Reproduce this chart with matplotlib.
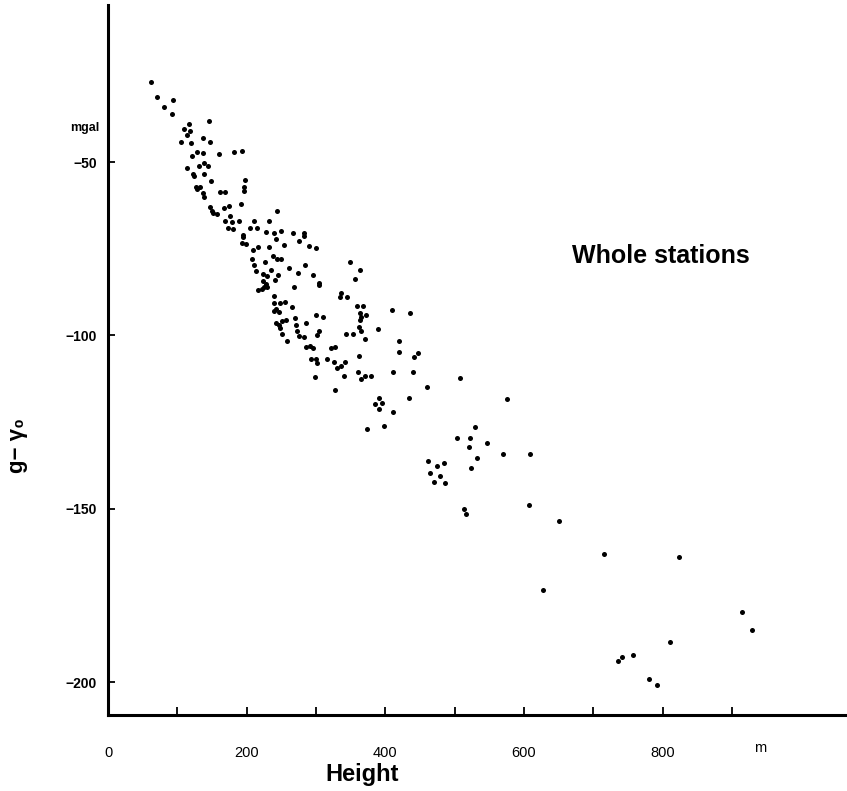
import matplotlib
matplotlib.use("Agg")
import matplotlib.pyplot as plt

plt.rcParams['font.family'] = ['Liberation Sans', 'DejaVu Sans']

# station height (m) and g - gamma0 (mgal)
height = [62, 70, 81, 94, 93, 146, 109, 117, 118, 114,
          105, 119, 137, 147, 128, 121, 137, 160, 182, 193,
          114, 131, 138, 144, 123, 124, 139, 149, 197, 127,
          133, 129, 196, 196, 137, 139, 161, 169, 192, 147,
          150, 152, 157, 167, 174, 176, 244, 169, 179, 189,
          173, 181, 211, 232, 205, 215, 228, 240, 249, 243,
          267, 283, 283, 276, 194, 195, 193, 199, 209, 217,
          232, 254, 290, 300, 207, 226, 238, 244, 249, 211,
          214, 224, 229, 235, 245, 261, 274, 284, 296, 304,
          305, 223, 228, 229, 217, 222, 225, 241, 268, 240,
          240, 248, 255, 265, 240, 243, 246, 243, 246, 248,
          251, 257, 270, 271, 285, 300, 310, 251, 273, 276,
          282, 305, 302, 258, 285, 291, 296, 322, 328, 349,
          364, 356, 336, 335, 345, 359, 368, 364, 372, 364,
          365, 362, 365, 389, 409, 435, 343, 353, 370, 420,
          419, 442, 447, 362, 293, 300, 301, 316, 326, 330,
          336, 342, 298, 341, 360, 365, 371, 380, 411, 440,
          460, 508, 327, 391, 395, 385, 391, 411, 434, 373,
          398, 530, 503, 522, 576, 520, 546, 532, 570, 608,
          461, 475, 485, 465, 479, 470, 486, 523, 514, 516,
          607, 650, 716, 823, 628, 914, 929, 810, 736, 741,
          757, 780, 792]

anomaly = [-27.0, -31.2, -34.2, -32.1, -36.2, -38.1, -40.5, -39.0, -41.0, -42.2,
           -44.1, -44.4, -43.1, -44.2, -47.2, -48.3, -47.4, -47.7, -47.1, -46.7,
           -51.8, -51.2, -50.2, -51.0, -53.5, -54.1, -53.5, -55.4, -55.2, -57.1,
           -57.3, -57.9, -57.1, -58.4, -59.0, -60.2, -58.5, -58.5, -62.2, -62.9,
           -64.0, -64.8, -65.0, -63.2, -62.7, -65.6, -64.0, -67.0, -67.4, -67.0,
           -69.0, -69.4, -66.9, -67.0, -69.0, -69.0, -70.3, -70.6, -69.8, -72.2,
           -70.4, -70.6, -71.3, -72.7, -70.9, -71.6, -73.3, -73.7, -75.4, -74.6,
           -74.6, -73.9, -74.1, -74.8, -78.0, -78.9, -77.0, -78.0, -78.0, -79.6,
           -81.4, -82.3, -82.8, -81.2, -82.5, -80.7, -81.9, -79.7, -82.6, -85.0,
           -85.6, -84.2, -85.2, -86.0, -86.9, -86.6, -86.1, -84.1, -85.9, -88.7,
           -90.8, -90.8, -90.5, -91.8, -92.9, -92.4, -93.3, -96.4, -97.0, -97.8,
           -95.8, -95.7, -95.1, -97.1, -96.5, -94.1, -94.6, -99.6, -98.6, -100.1,
           -100.4, -98.8, -100.0, -101.6, -103.4, -103.1, -103.5, -103.5, -103.3, -78.9,
           -81.0, -83.7, -87.7, -89.0, -89.0, -91.5, -91.5, -93.6, -94.2, -95.6,
           -94.8, -97.7, -98.7, -98.2, -92.7, -93.6, -99.7, -99.6, -101.0, -101.6,
           -104.7, -106.3, -105.2, -105.9, -106.8, -106.9, -108.0, -106.9, -107.8, -109.5,
           -108.8, -107.6, -112.1, -111.7, -110.7, -112.6, -111.7, -111.7, -110.7, -110.5,
           -115.0, -112.4, -115.8, -118.1, -119.4, -119.9, -121.3, -122.2, -118.1, -127.0,
           -126.2, -126.4, -129.7, -129.7, -118.4, -132.3, -130.9, -135.4, -134.2, -134.2,
           -136.2, -137.7, -136.8, -139.6, -140.5, -142.4, -142.7, -138.3, -150.0, -151.6,
           -148.8, -153.4, -163.0, -163.8, -173.3, -179.9, -185.1, -188.3, -194.0, -192.9,
           -192.1, -199.1, -200.8]

x_ticks = [0, 200, 400, 600, 800]
x_minor = [100, 300, 500, 700, 900]
y_ticks = [-50, -100, -150, -200]

fig = plt.figure(figsize=(8.47, 7.91), dpi=100)
ax = fig.add_axes([108 / 847, 1 - 715 / 791, 737 / 847, 710 / 791])

ax.scatter(height, anomaly, s=13, color='black', linewidths=0)

ax.set_xlim(0, 1063)
ax.set_ylim(-209.5, -4.7)

for side in ['top', 'right']:
    ax.spines[side].set_visible(False)
ax.spines['left'].set_linewidth(2.2)
ax.spines['bottom'].set_linewidth(2.2)

ax.set_xticks(x_ticks)
ax.set_xticklabels([str(t) for t in x_ticks], fontsize=10.5)
ax.set_xticks(x_minor, minor=True)
ax.tick_params(axis='x', which='both', direction='in', length=6, width=1.3, pad=22)
ax.set_yticks(y_ticks)
ax.set_yticklabels(['\u2212' + str(-t) for t in y_ticks], fontsize=10, fontweight='bold')
ax.tick_params(axis='y', direction='in', length=5, width=1.3, pad=8)

ax.text(940, -0.046, 'm', transform=ax.get_xaxis_transform(), fontsize=10.5,
        ha='center', va='center')
ax.text(-0.012, -40.2, 'mgal', transform=ax.get_yaxis_transform(), fontsize=9,
        fontweight='bold', ha='right', va='center')
ax.text(797, -77.1, 'Whole stations', fontsize=18, fontweight='bold',
        ha='center', va='center')

fig.text(362 / 847, 1 - 775 / 791, 'Height', fontsize=17, fontweight='bold',
         ha='center', va='center')
fig.text(17 / 847, 1 - 445 / 791, 'g\u2212 \u03b3\u2080', fontsize=16, fontweight='bold',
         rotation=90, ha='center', va='center')

fig.savefig('out.png', dpi=100)
